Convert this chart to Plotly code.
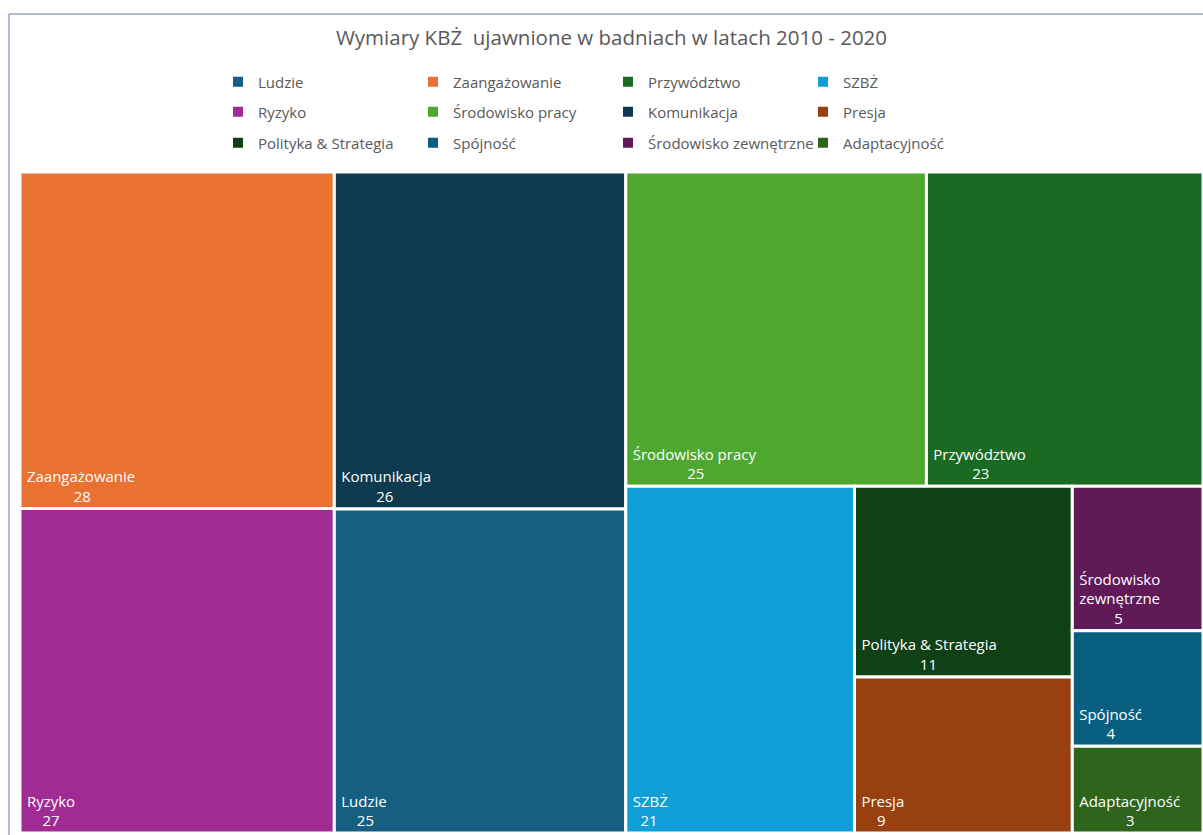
import plotly.graph_objects as go

# ---- data -------------------------------------------------------------
categories = [
    "Zaangażowanie", "Ryzyko", "Komunikacja", "Ludzie", "Środowisko pracy",
    "Przywództwo", "SZBŻ", "Polityka & Strategia", "Presja",
    "Środowisko zewnętrzne", "Spójność", "Adaptacyjność",
]
counts = [28, 27, 26, 25, 25, 23, 21, 11, 9, 5, 4, 3]

# legend order (4 columns x 3 rows)
legend_rows = [
    ["Ludzie", "Zaangażowanie", "Przywództwo", "SZBŻ"],
    ["Ryzyko", "Środowisko pracy", "Komunikacja", "Presja"],
    ["Polityka & Strategia", "Spójność", "Środowisko zewnętrzne", "Adaptacyjność"],
]

title_text = "Wymiary KBŻ  ujawnione w badniach w latach 2010 - 2020"

# ---- styles -----------------------------------------------------------
palette = {
    "Ludzie": "#156082",
    "Zaangażowanie": "#E97132",
    "Przywództwo": "#196B24",
    "SZBŻ": "#0F9ED5",
    "Ryzyko": "#A02B93",
    "Środowisko pracy": "#4EA72E",
    "Komunikacja": "#0D3A4E",
    "Presja": "#994010",
    "Polityka & Strategia": "#0F4016",
    "Spójność": "#095F80",
    "Środowisko zewnętrzne": "#601A58",
    "Adaptacyjność": "#2F641C",
}
wrapped = {"Środowisko zewnętrzne": "Środowisko<br>zewnętrzne"}

FONT = "Open Sans"
SIZE = 15
W, H = 1203, 835
ML, MR, MT, MB = 20, 0, 172, 2
PW, PH = W - ML - MR, H - MT - MB
NBSP = "\u00a0"

# approximate glyph widths (em) used to centre the value under its label
_em = {
    "i": .26, "l": .26, "j": .26, "f": .34, "t": .36, "r": .41, "s": .48, "ś": .48,
    "z": .47, "ż": .47, "c": .48, "ć": .48, "e": .56, "ę": .56, "a": .56,
    "o": .60, "ó": .60, "n": .61, "ń": .61, "u": .61, "d": .61, "p": .61,
    "b": .61, "g": .55, "h": .61, "k": .53, "y": .50, "v": .50, "w": .78,
    "m": .93, " ": .26, "&": .72, "S": .55, "Ś": .55, "Z": .56, "Ż": .56,
    "K": .62, "L": .52, "R": .62, "P": .60, "A": .63, "B": .66,
}


def em_width(s):
    return sum(_em.get(ch, .57) for ch in s)


def value_indent(label, value):
    longest = max(em_width(line) for line in label.split("<br>"))
    gap = (longest - em_width(str(value))) / 2
    return NBSP + NBSP * max(0, round(gap / .26))


def indent_lines(label):
    return "<br>".join(NBSP + line for line in label.split("<br>"))


cell_labels = [wrapped.get(c, c) for c in categories]
indents = [value_indent(lbl, v) for lbl, v in zip(cell_labels, counts)]
cell_labels = [indent_lines(lbl) for lbl in cell_labels]

fig = go.Figure()

fig.add_trace(go.Treemap(
    labels=categories,
    parents=[""] * len(categories),
    values=counts,
    customdata=list(zip(cell_labels, indents)),
    texttemplate="%{customdata[0]}<br>%{customdata[1]}%{value}",
    textposition="bottom left",
    textfont=dict(family=FONT, size=SIZE, color="white"),
    marker=dict(
        colors=[palette[c] for c in categories],
        line=dict(width=3, color="white"),
        pad=dict(t=0, l=0, r=0, b=0),
    ),
    tiling=dict(packing="squarify", squarifyratio=1, pad=0),
    sort=True,
    pathbar=dict(visible=False),
    hovertemplate="%{label}: %{value}<extra></extra>",
))

# legend entries: one legend per row
legend_names = ["legend", "legend2", "legend3"]
for row, lname in zip(legend_rows, legend_names):
    for name in row:
        fig.add_trace(go.Scatter(
            x=[None], y=[None], mode="markers", name=name,
            marker=dict(symbol="square", size=10, color=palette[name]),
            legend=lname, showlegend=True, hoverinfo="skip",
        ))

row_centres_px = [82, 112, 143]
legend_left_px = 218


def px_to_x(px):
    return (px - ML) / PW


def py_to_y(py):
    return 1 - (py - MT) / PH


legend_style = dict(
    orientation="h", xanchor="left", yanchor="middle",
    font=dict(family=FONT, size=SIZE, color="#595959"),
    entrywidth=150, entrywidthmode="pixels",
    bgcolor="rgba(0,0,0,0)", borderwidth=0, itemsizing="trace",
)
legends = {}
for lname, cy in zip(legend_names, row_centres_px):
    legends[lname] = dict(legend_style, x=px_to_x(legend_left_px), y=py_to_y(cy))

fig.update_layout(
    width=W, height=H,
    margin=dict(l=ML, r=MR, t=MT, b=MB),
    paper_bgcolor="white", plot_bgcolor="white",
    title=dict(
        text=title_text, x=0.5, xref="paper", xanchor="center",
        y=1 - 38 / H, yref="container", yanchor="middle",
        font=dict(family=FONT, size=20.5, color="#595959"),
    ),
    xaxis=dict(visible=False), yaxis=dict(visible=False),
    shapes=[dict(
        type="rect", xref="paper", yref="paper",
        x0=px_to_x(9), x1=px_to_x(1215), y0=py_to_y(850), y1=py_to_y(14),
        line=dict(color="#5B7FA0", width=1), fillcolor="rgba(0,0,0,0)",
        layer="above",
    )],
    **legends,
)

fig.write_html("out.html")
